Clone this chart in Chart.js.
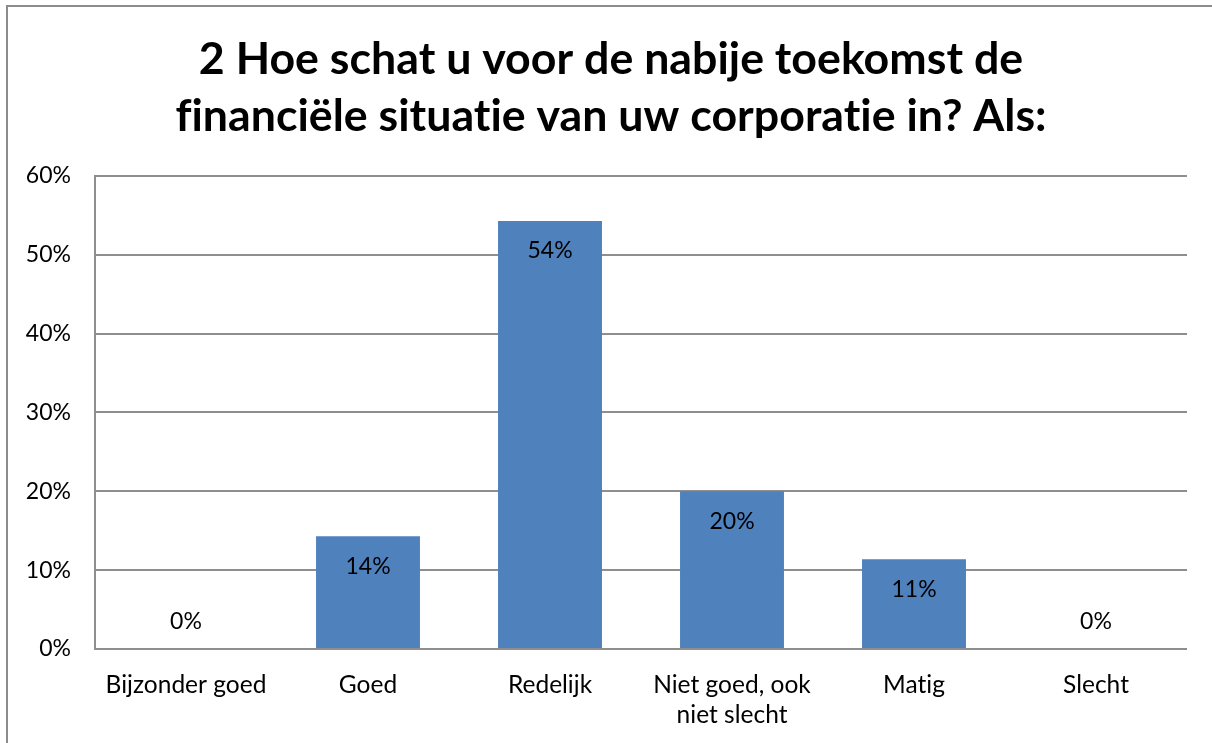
<!DOCTYPE html>
<html>
<head>
<meta charset="utf-8">
<script src="https://cdn.jsdelivr.net/npm/chart.js@4/dist/chart.umd.min.js"></script>
<style>
  html, body { margin: 0; padding: 0; background: #fff; overflow: hidden; }
  #wrap { position: relative; width: 1212px; height: 743px; }
  #frame {
    position: absolute; left: 6px; top: 5px; width: 1400px; height: 1000px;
    border-left: 2px solid #8c8c8c; border-top: 2px solid #8c8c8c;
    pointer-events: none;
  }
  canvas { position: absolute; left: 0; top: 0; }
</style>
</head>
<body>
<div id="wrap">
  <canvas id="chart" width="1212" height="743"></canvas>
  <div id="frame"></div>
</div>
<script>
// Answer categories and share of respondents (%)
const answers = ['Bijzonder goed', 'Goed', 'Redelijk', ['Niet goed, ook', 'niet slecht'], 'Matig', 'Slecht'];
const shares = [0, 14.3, 54.3, 20.0, 11.4, 0];
const yTicks = [0, 10, 20, 30, 40, 50, 60];

const titleLines = ['2 Hoe schat u voor de nabije toekomst de', 'financiële situatie van uw corporatie in? Als:'];
const fontFamily = 'Lato, "Open Sans", sans-serif';

// Tiny letter spacing keeps Lato from joining "ti" into a ligature
const noLigatures = {
    id: 'noLigatures',
    beforeDraw(chart) {
        chart.ctx.letterSpacing = '0.01px';
    }
};

// Center the title over the whole framed area, not just the padded layout box
const titleSpan = {
    id: 'titleSpan',
    afterLayout(chart) {
        const t = chart.titleBlock;
        if (!t) return;
        t.left = 10;
        t.right = chart.width;
        t.width = t.right - t.left;
    }
};

// Percentage labels: inside the bar top, or just above the axis for empty bars
const barLabels = {
    id: 'barLabels',
    afterDatasetsDraw(chart) {
        const ctx = chart.ctx;
        const meta = chart.getDatasetMeta(0);
        ctx.save();
        ctx.font = '23px ' + fontFamily;
        ctx.fillStyle = '#000';
        ctx.textAlign = 'center';
        ctx.textBaseline = 'middle';
        meta.data.forEach(function(bar, i) {
            const v = shares[i];
            const y = v > 0 ? bar.y + 30 : bar.base - 27;
            ctx.fillText(Math.round(v) + '%', bar.x, y);
        });
        ctx.restore();
    }
};

const ctx = document.getElementById('chart').getContext('2d');
const chart = new Chart(ctx, {
    type: 'bar',
    data: {
        labels: answers,
        datasets: [{
            data: shares,
            backgroundColor: '#4f81bd',
            borderWidth: 0,
            categoryPercentage: 1,
            barPercentage: 0.571
        }]
    },
    options: {
        responsive: false,
        animation: false,
        layout: { padding: { left: 0, right: 25, top: 0, bottom: 0 } },
        scales: {
            x: {
                grid: { display: false },
                border: { display: false },
                ticks: {
                    color: '#000',
                    font: { family: fontFamily, size: 24.5, lineHeight: 1.22 },
                    padding: 13,
                    maxRotation: 0,
                    autoSkip: false
                },
                afterFit: function(scale) { scale.height = 94; }
            },
            y: {
                min: 0,
                max: 60,
                afterBuildTicks: function(scale) {
                    scale.ticks = yTicks.map(function(v) { return { value: v }; });
                },
                grid: { color: '#8e8e8e', lineWidth: 2, drawTicks: false },
                border: { display: true, color: '#8e8e8e', width: 2 },
                ticks: {
                    color: '#000',
                    font: { family: fontFamily, size: 23 },
                    padding: 24,
                    callback: function(v) { return v + '%'; }
                },
                afterFit: function(scale) { scale.width = 95; }
            }
        },
        plugins: {
            legend: { display: false },
            tooltip: { enabled: false },
            title: {
                display: true,
                text: titleLines,
                color: '#000',
                font: { family: fontFamily, size: 44.7, weight: 'bold', lineHeight: 1.275 },
                padding: { top: 31, bottom: 31 }
            }
        }
    },
    plugins: [noLigatures, titleSpan, barLabels]
});
</script>
</body>
</html>
